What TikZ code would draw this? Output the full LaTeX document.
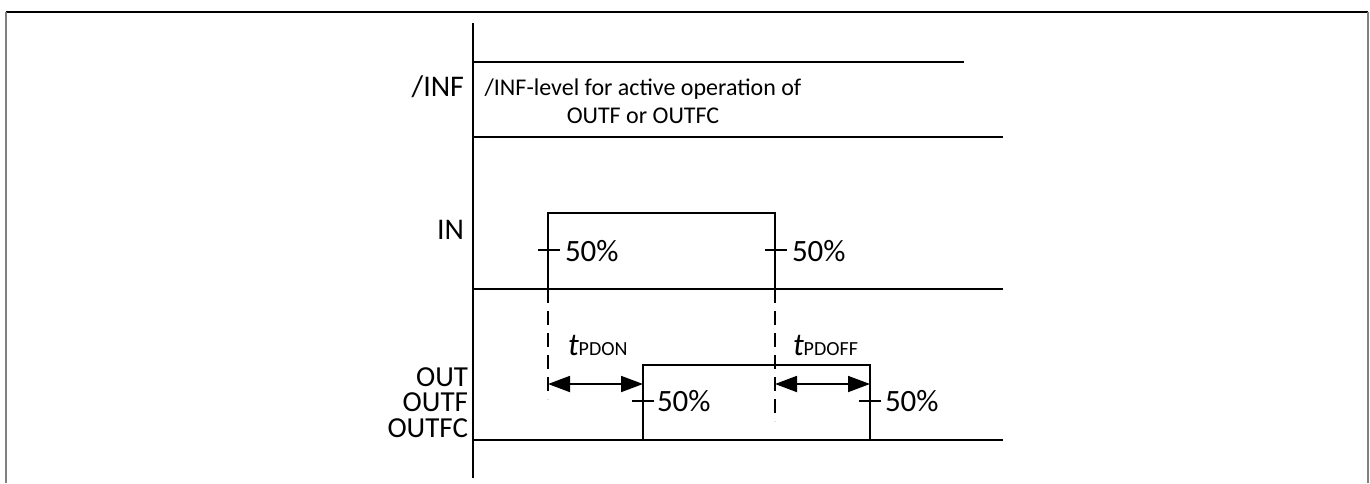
\documentclass[tikz,border=0pt]{standalone}
\usepackage{fontspec}
\setmainfont{Carlito}
\usetikzlibrary{arrows.meta}
\usetikzlibrary{positioning}
\tikzstyle{base}=[x=1pt, y=-1pt, inner sep=0pt, outer sep=0pt]
\tikzstyle{rail}=[line width=2.4pt]
\tikzstyle{wave}=[line width=1.8pt]
\tikzstyle{tick}=[line width=1.4pt]
\tikzstyle{guide}=[line width=1.4pt, dash pattern=on 14pt off 8pt]
\tikzstyle{span}=[line width=1.8pt, {Triangle[length=22pt,width=16pt]}-{Triangle[length=22pt,width=16pt]}]
\tikzstyle{sig}=[font=\fontsize{30}{30}\selectfont, anchor=east]
\tikzstyle{stack}=[font=\fontsize{29}{29}\selectfont, anchor=east]
\tikzstyle{pct}=[font=\fontsize{31}{31}\selectfont, anchor=west]
\tikzstyle{note}=[font=\fontsize{24}{28}\selectfont, align=center]
\tikzstyle{tlabel}=[anchor=base west]

\begin{document}
\begin{tikzpicture}[base]
        \useasboundingbox (0,0) rectangle (1370,483);
        \draw[line width=2pt] (6,12) -- (1368,12);
        \draw[gray, line width=2pt] (6,12) -- (6,483);
        \draw[gray, line width=2pt] (1368,12) -- (1368,483);
        \draw[line width=2pt] (473,23) -- (473,478);
        \draw[rail] (473,62) -- (964,62);
        \draw[rail] (473,137) -- (1003,137);
        \draw[rail] (473,289) -- (1003,289);
        \draw[rail] (473,440) -- (1003,440);
        \draw[wave] (548,289) -- (548,213) -- (775,213) -- (775,289);
        \draw[wave] (643,440) -- (643,365) -- (870,365) -- (870,440);
        \node[sig] (inf) at (464,87) {/INF};
        \node[sig] (in) at (464,230) {IN};
        \node[stack] (out) at (468,377) {OUT};
        \node[stack] (outf) at (468,402.5) {OUTF};
        \node[stack] (outfc) at (468,428) {OUTFC};
        \node[note] (level) at (643,101) {/INF-level for active operation of\\OUTF or OUTFC};
        \draw[tick] (538,250) -- (560,250);
        \draw[tick] (765,250) -- (787,250);
        \draw[tick] (632,401) -- (654,401);
        \draw[tick] (859,401) -- (881,401);
        \node[pct] (inon) at (565,251) {50\%};
        \node[pct] (inoff) at (792,251) {50\%};
        \node[pct] (outon) at (657,401) {50\%};
        \node[pct] (outoff) at (885,401) {50\%};
        \draw[guide] (548,289) -- (548,399);
        \draw[guide] (775,289) -- (775,421);
        \coordinate (ona) at (548,384);
        \coordinate (onb) at (643,384);
        \coordinate (offa) at (775,384);
        \coordinate (offb) at (870,384);
        \draw[span] (ona) -- (onb);
        \draw[span] (offa) -- (offb);
        \node[tlabel] (ton) at (568,355) {{\fontsize{32}{32}\selectfont\itshape t}{\fontsize{20}{20}\selectfont PDON}};
        \node[tlabel] (toff) at (793,355) {{\fontsize{32}{32}\selectfont\itshape t}{\fontsize{20}{20}\selectfont PDOFF}};
    \end{tikzpicture}
\end{document}
